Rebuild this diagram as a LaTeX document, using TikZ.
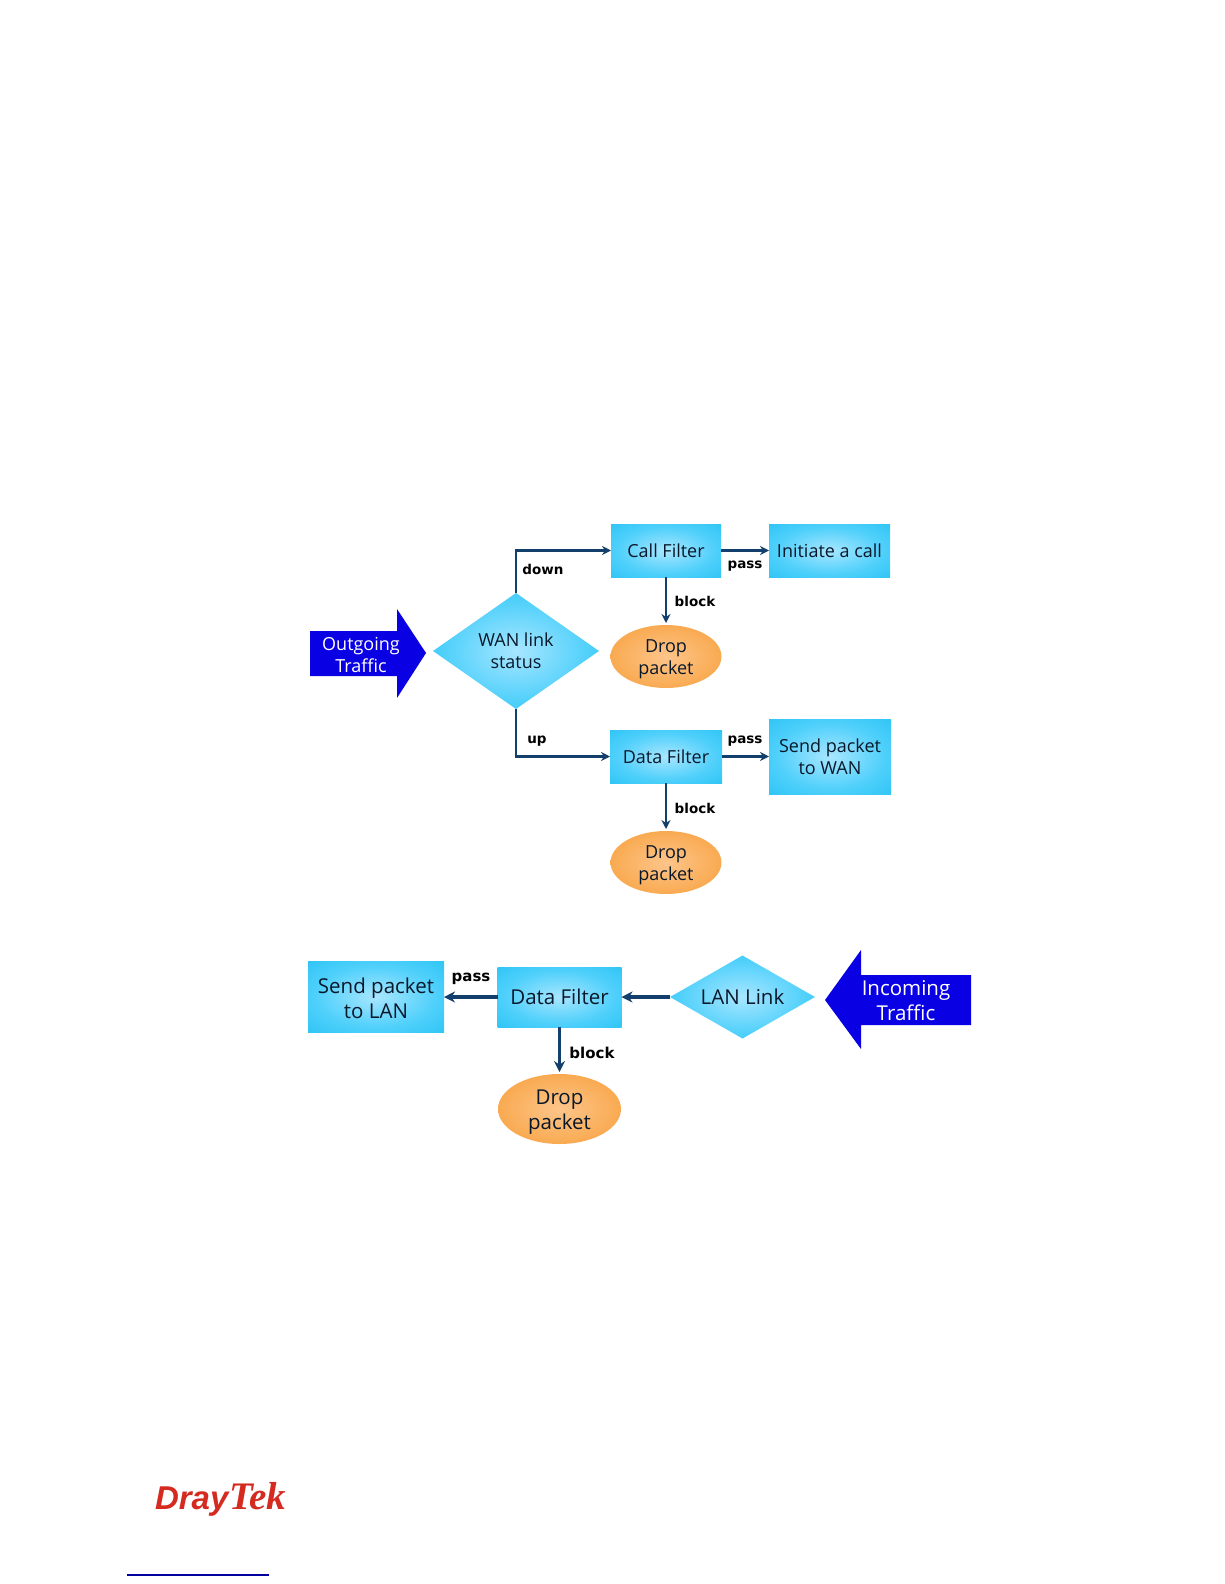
\documentclass[tikz,border=0pt]{standalone}
\usepackage{fontspec}
\usetikzlibrary{shapes.geometric,arrows.meta}
\setmainfont{Open Sans}
\newfontfamily\lblfont{DejaVu Sans}
\newfontfamily\logofont{Liberation Sans}
\newfontfamily\logofontb{Liberation Serif}
\definecolor{cyanin}{HTML}{A8E6FF}
\definecolor{cyanmid}{HTML}{4FD0FB}
\definecolor{cyanout}{HTML}{22C0F2}
\definecolor{orin}{HTML}{FDC58A}
\definecolor{ormid}{HTML}{F9A94F}
\definecolor{orout}{HTML}{F3922C}
\definecolor{flowline}{HTML}{123F6B}
\definecolor{inktext}{HTML}{08182A}
\definecolor{bigblue}{HTML}{0A00E4}
\definecolor{logored}{HTML}{D42A20}
\definecolor{rulenavy}{HTML}{0000A0}
\pgfdeclareradialshading{cyanglow}{\pgfpoint{0bp}{0bp}}{color(0bp)=(cyanin); color(22bp)=(cyanmid); color(42bp)=(cyanout); color(100bp)=(cyanout)}
\pgfdeclareradialshading{orangeglow}{\pgfpoint{0bp}{0bp}}{color(0bp)=(orin); color(26bp)=(ormid); color(48bp)=(orout); color(100bp)=(orout)}
\tikzset{
  every node/.style={inner sep=0pt,outer sep=0pt,text=inktext,align=center},
  procbox/.style={rectangle,shading=cyanglow,minimum width=#1},
  dropnode/.style={ellipse,shading=orangeglow,minimum width=#1},
  decide/.style={diamond,shape aspect=1.43,shading=cyanglow,minimum width=#1},
  smalltext/.style={font=\fontsize{18}{22}\selectfont},
  bigtext/.style={font=\fontsize{20.5}{25}\selectfont},
  tag/.style={font=\lblfont\bfseries\fontsize{13.5}{16}\selectfont,text=black},
  bigtag/.style={font=\lblfont\bfseries\fontsize{15}{18}\selectfont,text=black},
  flow/.style={draw=flowline,line width=2.5pt,-{Stealth[length=9pt,width=9pt]}},
  flowthick/.style={draw=flowline,line width=3.2pt,-{Stealth[length=11pt,width=11pt]}},
  trafficfill/.style={fill=bigblue,draw=none},
  traffictext/.style={text=white},
}
\begin{document}
\begin{tikzpicture}[x=1pt,y=-1pt]
\useasboundingbox (0,0) rectangle (1224,1584);
% traffic arrows
\path[trafficfill] (310,631) -- (397,631) -- (397,609) -- (426,653) -- (397,698) -- (397,676) -- (310,676) -- cycle;
\node[smalltext,traffictext] (outtext) at (361,655) {Outgoing\\Traffic};
\path[trafficfill] (971,975) -- (861,975) -- (861,950) -- (825,1000) -- (861,1049) -- (861,1025) -- (971,1025) -- cycle;
\node[bigtext,traffictext] (intext) at (906,1001) {Incoming\\Traffic};
% upper flow
\node[decide=166pt,minimum height=116pt,smalltext] (wan) at (516,651) {WAN link\\status};
\node[procbox=110pt,minimum height=53pt,smalltext] (call) at (666,550.5) {Call Filter};
\node[procbox=121pt,minimum height=53pt,smalltext] (init) at (829.5,550.5) {Initiate a call};
\node[dropnode=111pt,minimum height=63pt] (dropa) at (666,656.5) {};
\node[smalltext] (dropatext) at (666,659.5) {Drop\\packet};
\node[procbox=112pt,minimum height=53pt,smalltext] (dataa) at (666,756.5) {Data Filter};
\node[procbox=122pt,minimum height=75pt,smalltext] (wanout) at (830,756.5) {Send packet\\to WAN};
\node[dropnode=111pt,minimum height=63pt] (dropb) at (666,862.5) {};
\node[smalltext] (dropbtext) at (666,865.5) {Drop\\packet};
% lower flow
\node[procbox=136pt,minimum height=71pt] (lanout) at (376,996.5) {};
\node[bigtext] (lanouttext) at (376,998) {Send packet\\to LAN};
\node[procbox=124pt,minimum height=60pt,bigtext] (datab) at (559.5,997) {Data Filter};
\node[dropnode=123pt,minimum height=70pt] (dropc) at (559.5,1109) {};
\node[bigtext] (dropctext) at (559.5,1112) {Drop\\packet};
\node[decide=145pt,minimum height=83pt,bigtext] (lan) at (742.5,997) {LAN Link};
% connectors
\draw[flow] (wan.north) |- (call.west);
\draw[flow] (wan.south) |- (dataa.west);
\draw[flow] (call.east) -- (init.west);
\draw[flow,shorten >=2pt] (call.south) -- (dropa.north);
\draw[flow] (dataa.east) -- (wanout.west);
\draw[flow,shorten >=2pt] (dataa.south) -- (dropb.north);
\draw[flowthick] (datab.west) -- (datab.west -| lanout.east);
\draw[flowthick,shorten >=2pt] (datab.south) -- (dropc.north);
\draw[flowthick] (lan.west) -- (datab.east);
% labels
\node[tag] (tdown) at (543,569) {down};
\node[tag] (tpassa) at (745,566) {pass};
\node[tag] (tblocka) at (695,601) {block};
\node[tag] (tup) at (537,741) {up};
\node[tag] (tpassb) at (745,741) {pass};
\node[tag] (tblockb) at (695,808) {block};
\node[bigtag] (tpassc) at (471,979) {pass};
\node[bigtag] (tblockc) at (592,1053) {block};
% footer
\node[anchor=base west,text=logored,font=\bfseries\itshape] (logo) at (155,1509) {{\logofont\fontsize{33}{36}\selectfont Dray}\hspace{1pt}{\logofontb\fontsize{39}{39}\selectfont Tek}};
\coordinate (rulea) at (127,1575);
\coordinate (ruleb) at (269,1575);
\draw[rulenavy,line width=1.2pt] (rulea) -- (ruleb);
\end{tikzpicture}
\end{document}
